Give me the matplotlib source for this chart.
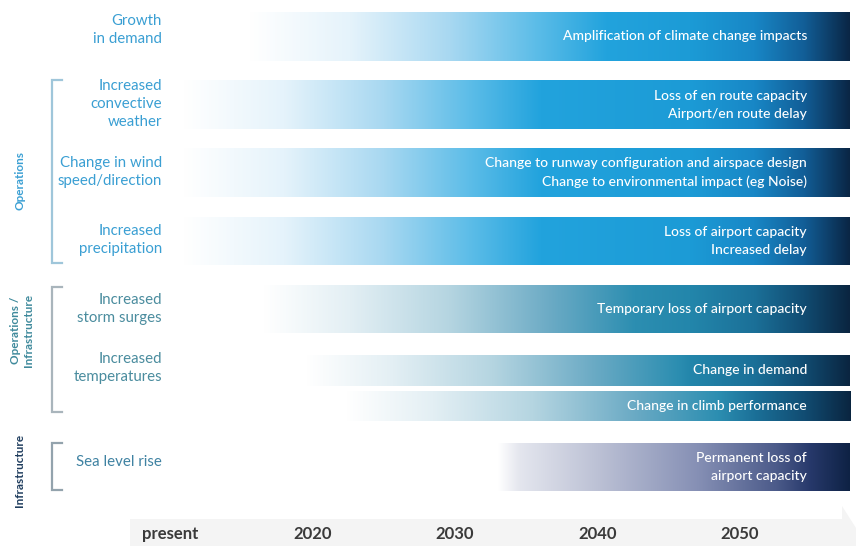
import numpy as np
import matplotlib
matplotlib.use("Agg")
import matplotlib.pyplot as plt
from matplotlib.colors import to_rgb
from matplotlib.patches import Polygon

plt.rcParams['font.family'] = ['Lato', 'DejaVu Sans']

# ---------------- data ----------------
drivers = ["Growth\nin demand", "Increased\nconvective\nweather",
           "Change in wind\nspeed/direction", "Increased\nprecipitation",
           "Increased\nstorm surges", "Increased\ntemperatures", "Sea level rise"]
impacts = ["Amplification of climate change impacts",
           "Loss of en route capacity\nAirport/en route delay",
           "Change to runway configuration and airspace design\nChange to environmental impact (eg Noise)",
           "Loss of airport capacity\nIncreased delay",
           "Temporary loss of airport capacity",
           "Change in demand",
           "Change in climb performance",
           "Permanent loss of\nairport capacity"]
onset_year = [2015.6, 2011.0, 2011.0, 2011.0, 2016.6, 2019.6, 2022.4, 2033.0]
horizon_year = [2057.7] * 8
bar_palette = ["blue", "blue", "blue", "blue", "teal", "teal", "teal", "sea"]
groups = ["Operations", "Operations /\nInfrastructure", "Infrastructure"]
tick_years = [2010, 2020, 2030, 2040, 2050]
tick_labels = ["present", "2020", "2030", "2040", "2050"]

# ---------------- layout (pixel rows) ----------------
bar_top = [12, 80, 148, 217, 285, 355, 391, 443]
bar_bot = [61, 129, 197, 265, 333, 386, 421, 491]
driver_y = [30, 104, 172, 240, 309, 368, 462]
driver_col = ["#3a9fd3", "#3a9fd3", "#3a9fd3", "#3a9fd3", "#4a8c9e", "#4a8c9e", "#3f82a2"]
group_y = [180, 330, 470]
group_col = ["#3a9fd3", "#3f8a9c", "#1f3d5e"]
bracket = [(80, 263, "#9fc6da"), (287, 412, "#a9b5bc"), (443, 490, "#93a3ad")]

PX_PER_YEAR = 14.25
def yr(px):
    return 2010 + (px - 170) / PX_PER_YEAR

palettes = {
    "blue": dict(light=[(0, "#ffffff"), (7, "#e5f3fb"), (14, "#a8d8f1"), (20, "#5dbde8"), (25, "#22a3dd")],
                 dark=[(2046.5, "#1c9bd6"), (2051.0, "#1887c6"), (2054.5, "#125e97"), (2057.7, "#0a2645")]),
    "teal": dict(light=[(0, "#ffffff"), (6, "#e3eff4"), (13, "#b5d5e1"), (20, "#6cabc5"), (26, "#2c8eb1")],
                 dark=[(2046.5, "#2386ab"), (2051.0, "#1b7098"), (2054.5, "#114c72"), (2057.7, "#0a2540")]),
    "sea": dict(light=[(0, "#ffffff"), (1.5, "#e4e6ee"), (7, "#bcc1d5"), (14, "#8690b5")],
                dark=[(2052.5, "#4c5b8a"), (2055.0, "#26386a"), (2057.7, "#0e2244")]),
}

def gradient(start, end, pal, n=700):
    p = palettes[pal]
    stops = [(start + o, c) for o, c in p["light"]]
    last = stops[-1][0]
    stops += [(y, c) for y, c in p["dark"] if y > last]
    xs = np.array([s[0] for s in stops])
    cs = np.array([to_rgb(s[1]) for s in stops])
    x = np.linspace(start, end, n)
    rgb = np.stack([np.interp(x, xs, cs[:, k]) for k in range(3)], axis=-1)
    return rgb[np.newaxis, :, :]

# ---------------- figure ----------------
fig = plt.figure(figsize=(8.56, 5.46), dpi=100)
ax = fig.add_axes([0, 26 / 546, 1, 520 / 546])
ax.set_xlim(yr(0), yr(856))
ax.set_ylim(520, 0)

# faint bottom timeline arrow
band = Polygon([(yr(130), 519), (yr(842), 519), (yr(842), 506), (yr(856), 528),
                (yr(856), 546), (yr(130), 546)], closed=True,
               facecolor="#f4f4f4", edgecolor="none", clip_on=False, zorder=0)
ax.add_patch(band)

for i in range(len(impacts)):
    img = gradient(onset_year[i], horizon_year[i], bar_palette[i])
    ax.imshow(img, extent=[onset_year[i], horizon_year[i], bar_bot[i], bar_top[i]],
              aspect="auto", interpolation="bilinear", zorder=1)
    ax.text(yr(807), (bar_top[i] + bar_bot[i]) / 2, impacts[i], ha="right", va="center",
            color="white", fontsize=10, fontweight="medium", linespacing=1.6, zorder=3)

for i, d in enumerate(drivers):
    ax.text(yr(162), driver_y[i], d, ha="right", va="center", color=driver_col[i],
            fontsize=10.8, linespacing=1.4)

gx = [yr(20), yr(22), yr(20)]
for i, g in enumerate(groups):
    ax.text(gx[i], group_y[i], g, rotation=90, ha="center", va="center",
            color=group_col[i], fontsize=8.5, fontweight="bold", linespacing=1.15)

for y0, y1, c in bracket:
    ax.plot([yr(62), yr(52), yr(52), yr(62)], [y0, y0, y1, y1], color=c, lw=1.6,
            solid_joinstyle="miter")

ax.set_xticks(tick_years)
ax.set_xticklabels(tick_labels, fontsize=12, fontweight="bold", color="#3a3a3a")
ax.tick_params(axis="x", length=0, pad=4)
ax.tick_params(axis="y", left=False, labelleft=False)
for s in ax.spines.values():
    s.set_visible(False)
ax.set_xlim(yr(0), yr(856))
ax.set_ylim(520, 0)

fig.savefig("out.png", dpi=100)
